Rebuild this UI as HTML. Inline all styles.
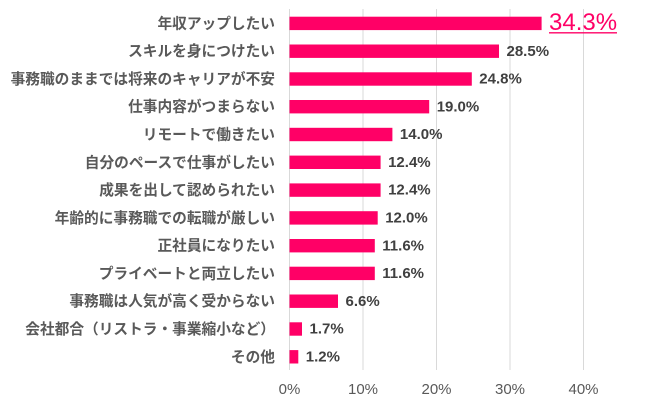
<!DOCTYPE html>
<html><head><meta charset="utf-8">
<style>
html,body{margin:0;padding:0;background:#fff;}
svg{display:block;}
.cat{font-family:"Liberation Sans","Noto Sans CJK JP",sans-serif;font-size:14.7px;font-weight:bold;fill:#595959;text-anchor:end;}
.val{font-family:"Liberation Sans","Noto Sans CJK JP",sans-serif;font-size:15px;font-weight:bold;fill:#404040;}
.tick{font-family:"Liberation Sans",sans-serif;font-size:15px;fill:#595959;text-anchor:middle;}
</style></head>
<body>
<svg width="650" height="400" viewBox="0 0 650 400" xmlns="http://www.w3.org/2000/svg">
<g stroke="#d9d9d9" stroke-width="1">
<line x1="289.5" y1="9" x2="289.5" y2="370"/>
<line x1="363" y1="9" x2="363" y2="370"/>
<line x1="436.5" y1="9" x2="436.5" y2="370"/>
<line x1="510" y1="9" x2="510" y2="370"/>
<line x1="583.5" y1="9" x2="583.5" y2="370"/>
</g>
<g fill="#ff0066">
<rect x="289.5" y="16.7" width="252.1" height="13.4"/>
<rect x="289.5" y="44.5" width="209.5" height="13.4"/>
<rect x="289.5" y="72.3" width="182.3" height="13.4"/>
<rect x="289.5" y="100.0" width="139.7" height="13.4"/>
<rect x="289.5" y="127.8" width="102.9" height="13.4"/>
<rect x="289.5" y="155.6" width="91.1" height="13.4"/>
<rect x="289.5" y="183.4" width="91.1" height="13.4"/>
<rect x="289.5" y="211.2" width="88.2" height="13.4"/>
<rect x="289.5" y="239.0" width="85.3" height="13.4"/>
<rect x="289.5" y="266.7" width="85.3" height="13.4"/>
<rect x="289.5" y="294.5" width="48.5" height="13.4"/>
<rect x="289.5" y="322.3" width="12.5" height="13.4"/>
<rect x="289.5" y="350.1" width="8.8" height="13.4"/>
</g>
<g class="cat">
<text x="275" y="28.4" class="cat">年収アップしたい</text>
<text x="275" y="56.2" class="cat">スキルを身につけたい</text>
<text x="275" y="84.0" class="cat">事務職のままでは将来のキャリアが不安</text>
<text x="275" y="111.7" class="cat">仕事内容がつまらない</text>
<text x="275" y="139.5" class="cat">リモートで働きたい</text>
<text x="275" y="167.3" class="cat">自分のペースで仕事がしたい</text>
<text x="275" y="195.1" class="cat">成果を出して認められたい</text>
<text x="275" y="222.9" class="cat">年齢的に事務職での転職が厳しい</text>
<text x="275" y="250.7" class="cat">正社員になりたい</text>
<text x="275" y="278.4" class="cat">プライベートと両立したい</text>
<text x="275" y="306.2" class="cat">事務職は人気が高く受からない</text>
<text x="275" y="334.0" class="cat">会社都合（リストラ・事業縮小など）</text>
<text x="275" y="361.8" class="cat">その他</text>
</g>
<text x="549" y="30" font-family="Liberation Sans, sans-serif" font-size="24" fill="#ff0066">34.3%</text>
<line x1="549" y1="32.8" x2="617" y2="32.8" stroke="#ff0066" stroke-width="1.3"/>
<text x="506.5" y="55.8" class="val">28.5%</text>
<text x="479.3" y="83.6" class="val">24.8%</text>
<text x="436.7" y="111.3" class="val">19.0%</text>
<text x="399.9" y="139.1" class="val">14.0%</text>
<text x="388.1" y="166.9" class="val">12.4%</text>
<text x="388.1" y="194.7" class="val">12.4%</text>
<text x="385.2" y="222.5" class="val">12.0%</text>
<text x="382.3" y="250.3" class="val">11.6%</text>
<text x="382.3" y="278.0" class="val">11.6%</text>
<text x="345.5" y="305.8" class="val">6.6%</text>
<text x="309.5" y="333.6" class="val">1.7%</text>
<text x="305.8" y="361.4" class="val">1.2%</text>
<g class="tick">
<text x="289.5" y="394">0%</text>
<text x="363" y="394">10%</text>
<text x="436.5" y="394">20%</text>
<text x="510" y="394">30%</text>
<text x="583.5" y="394">40%</text>
</g>
</svg>
</body></html>
